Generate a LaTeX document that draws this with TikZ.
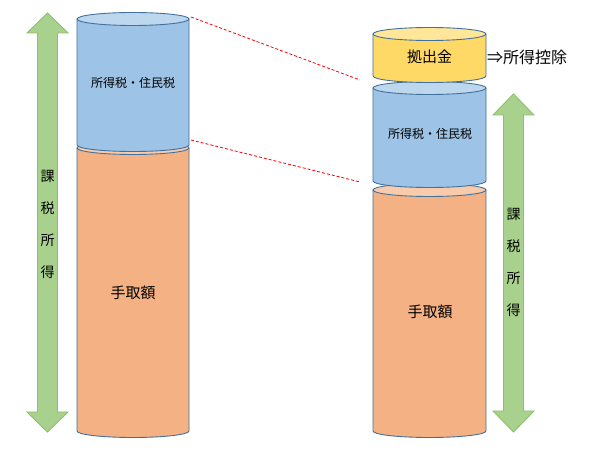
\documentclass[tikz,border=0pt]{standalone}
\usepackage{fontspec}
\setmainfont{Noto Sans CJK JP}
\usetikzlibrary{positioning}
\definecolor{taxblue}{HTML}{9DC3E6}
\definecolor{taxbluetop}{HTML}{BDD7EE}
\definecolor{netorange}{HTML}{F4B183}
\definecolor{netorangetop}{HTML}{F8CBAD}
\definecolor{payyellow}{HTML}{FFD966}
\definecolor{payyellowtop}{HTML}{FFE699}
\definecolor{cylborder}{HTML}{41719C}
\definecolor{arrowgreen}{HTML}{A9D18E}
\definecolor{arrowborder}{HTML}{8CC168}
% cylinder: centre x, x radius, top y, bottom y, body colour, lid colour
\newcommand{\cylbox}[6]{%
  \fill[#5] (#1-#2,#3) -- (#1-#2,#4) arc[start angle=180,end angle=360,x radius=#2,y radius=6.5] -- (#1+#2,#3) -- cycle;
  \draw[cylline] (#1-#2,#3) -- (#1-#2,#4) arc[start angle=180,end angle=360,x radius=#2,y radius=6.5] -- (#1+#2,#3);
  \draw[cylline,fill=#6] (#1,#3) ellipse[x radius=#2,y radius=6.5];}
% up-down arrow: centre x, top tip, top head base, bottom head base, bottom tip
\newcommand{\updown}[5]{%
  \draw[arrowline] (#1,#2) -- (#1+20.5,#3) -- (#1+10,#3) -- (#1+10,#4) -- (#1+20.5,#4) -- (#1,#5)
    -- (#1-20.5,#4) -- (#1-10,#4) -- (#1-10,#3) -- (#1-20.5,#3) -- cycle;}
\begin{document}
\begin{tikzpicture}[x=1pt,y=1pt,
  cylline/.style={draw=cylborder,line width=0.9pt},
  arrowline/.style={draw=arrowborder,fill=arrowgreen,line width=0.9pt},
  label/.style={font=\fontsize{15}{17}\selectfont,inner sep=0pt},
  smalllabel/.style={font=\fontsize{12}{14}\selectfont,inner sep=0pt},
  vlabel/.style={font=\fontsize{14}{32}\selectfont,align=center,inner sep=0pt}]
\useasboundingbox (0,0) rectangle (592,450);
\fill[white] (0,0) rectangle (592,450);

% before
\cylbox{133}{56}{302}{19}{netorange}{netorangetop}
\cylbox{133}{56}{431}{305}{taxblue}{taxbluetop}
\updown{47.5}{437}{417}{38}{18}
\node[smalllabel] (taxleft) at (133,367) {所得税・住民税};
\node[label] (netleft) at (133,157) {手取額};
\node[vlabel] (incomeleft) at (47.5,226) {課\\税\\所\\得};

% after
\cylbox{429.5}{56.5}{260}{19}{netorange}{netorangetop}
\cylbox{429.5}{56.5}{362}{269}{taxblue}{taxbluetop}
\cylbox{429.5}{56.5}{416}{374}{payyellow}{payyellowtop}
\updown{513.5}{356}{335}{39}{18}
\node[smalllabel] (taxright) at (430,316) {所得税・住民税};
\node[label] (netright) at (430,138) {手取額};
\node[label] (payin) at (429.5,393) {拠出金};
\node[label,font=\fontsize{16}{18}\selectfont,anchor=west] (deduct) at (487,393) {⇒所得控除};
\node[vlabel] (incomeright) at (513.5,187.5) {課\\税\\所\\得};

% dashed guides
\coordinate (ltop) at (191,433);
\coordinate (lbot) at (191,310);
\coordinate (rtop) at (360,370);
\coordinate (rbot) at (360,268);
\draw[red,dashed,line width=0.8pt,dash pattern=on 3pt off 2pt] (ltop) -- (rtop);
\draw[red,dashed,line width=0.8pt,dash pattern=on 3pt off 2pt] (lbot) -- (rbot);
\end{tikzpicture}
\end{document}
